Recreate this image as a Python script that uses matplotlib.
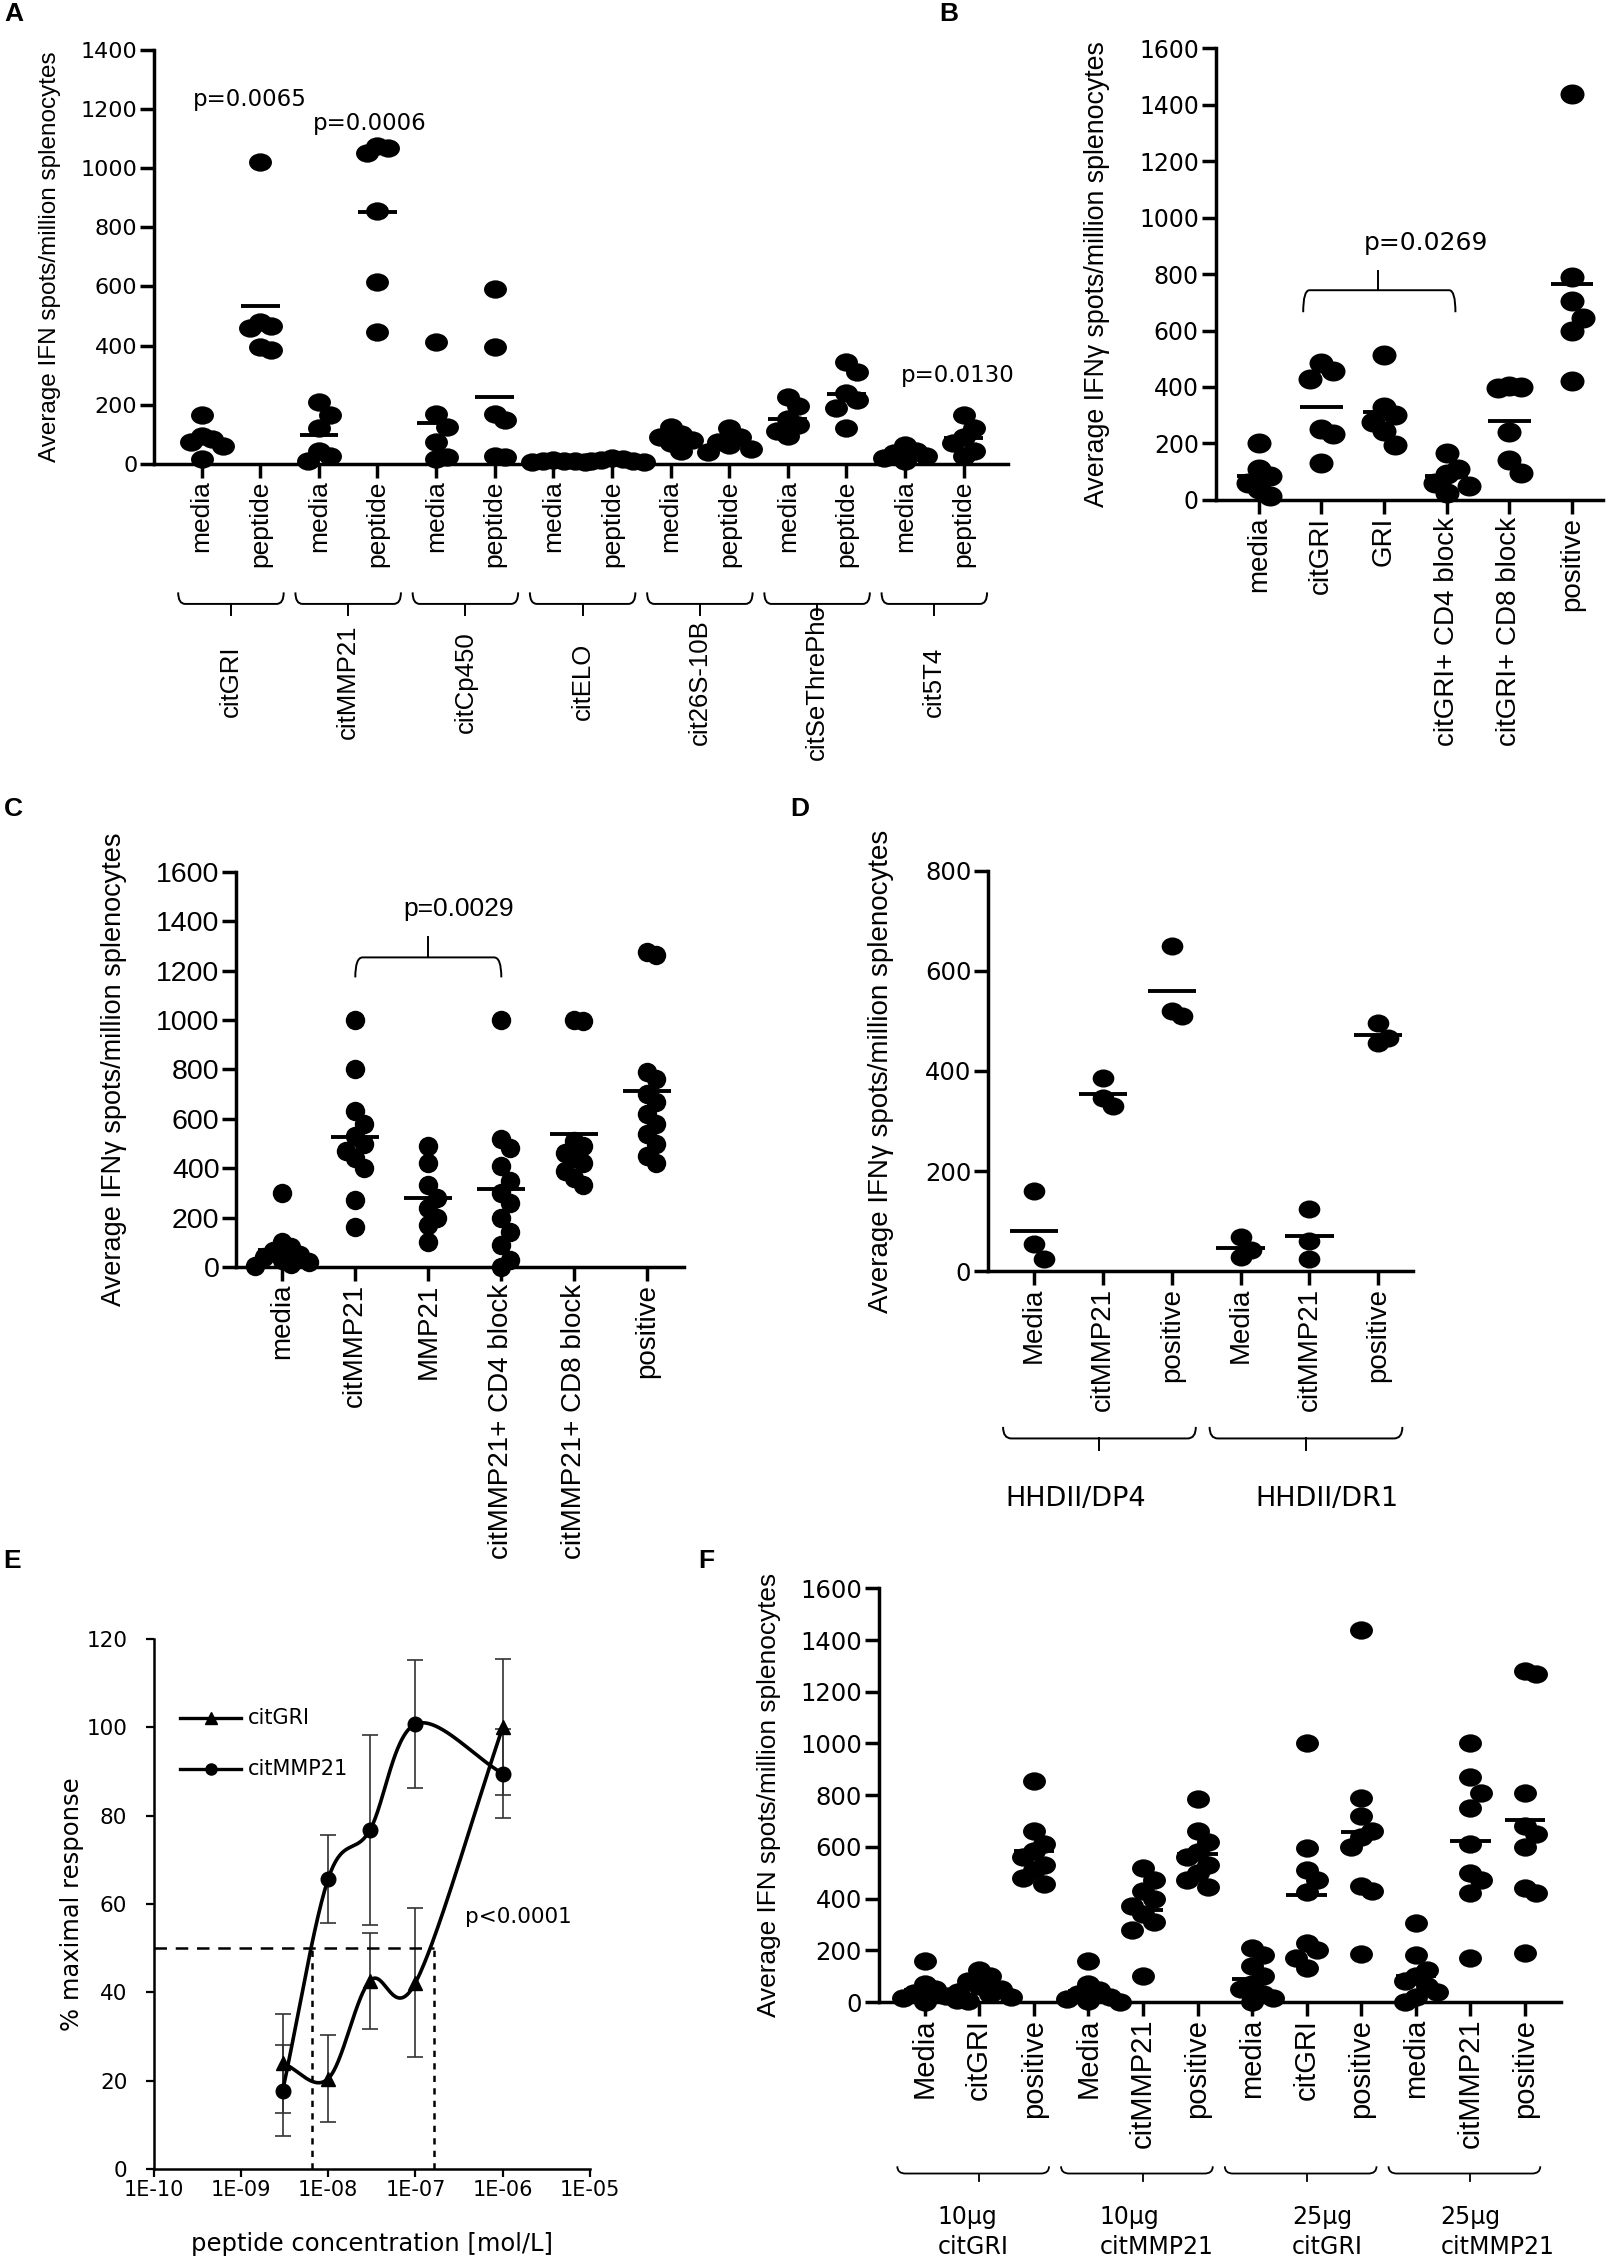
import numpy as np
import matplotlib
matplotlib.use('Agg')
import matplotlib.pyplot as plt
from matplotlib.transforms import blended_transform_factory, Affine2D
from matplotlib.path import Path
from matplotlib.patches import PathPatch

# ======================= DATA =======================
# Panel A
a_groups = ['citGRI', 'citMMP21', 'citCp450', 'citELO', 'cit26S-10B', 'citSeThrePho', 'cit5T4']
a_conditions = ['media', 'peptide']
a_citgri_media = [165, 95, 85, 75, 60, 15]
a_citgri_peptide = [1020, 480, 465, 460, 395, 385]
a_citmmp21_media = [210, 165, 120, 45, 25, 10]
a_citmmp21_peptide = [1075, 1070, 1050, 855, 615, 445]
a_citcp450_media = [412, 170, 125, 75, 22, 15]
a_citcp450_peptide = [592, 395, 170, 147, 28, 23]
a_citelo_media = [12, 10, 8, 8, 5, 5]
a_citelo_peptide = [20, 15, 12, 10, 8, 5]
a_cit26s_media = [125, 100, 90, 80, 70, 45]
a_cit26s_peptide = [122, 90, 75, 65, 50, 40]
a_citsethrepho_media = [225, 195, 150, 130, 110, 95]
a_citsethrepho_peptide = [345, 310, 240, 215, 190, 120]
a_cit5t4_media = [65, 45, 35, 25, 20, 10]
a_cit5t4_peptide = [165, 120, 90, 70, 45, 25]
a_pvalue_text = ['p=0.0065', 'p=0.0006', 'p=0.0130']
a_pvalue_x = [0.83, 2.87, 12.9]
a_pvalue_y = [1231, 1153, 300]

# Panel B
b_labels = ['media', 'citGRI', 'GRI', 'citGRI+ CD4 block', 'citGRI+ CD8 block', 'positive']
b_media = [200, 110, 85, 60, 40, 15]
b_citgri = [485, 455, 430, 250, 235, 130]
b_gri = [515, 330, 300, 275, 245, 195]
b_cd4 = [165, 110, 90, 60, 50, 25]
b_cd8 = [405, 400, 395, 240, 140, 95]
b_positive = [1440, 790, 705, 645, 600, 420]
b_pvalue = 'p=0.0269'

# Panel C
c_labels = ['media', 'citMMP21', 'MMP21', 'citMMP21+ CD4 block', 'citMMP21+ CD8 block', 'positive']
c_media = [300, 100, 80, 65, 50, 40, 30, 20, 10, 5]
c_citmmp21 = [1000, 800, 630, 580, 530, 500, 470, 440, 400, 270, 160]
c_mmp21 = [490, 420, 330, 280, 240, 200, 170, 100]
c_cd4 = [1000, 520, 480, 410, 350, 300, 260, 200, 140, 90, 30, 0]
c_cd8 = [1000, 995, 510, 490, 460, 440, 420, 390, 360, 330]
c_positive = [1275, 1265, 790, 760, 700, 670, 620, 580, 540, 500, 450, 420]
c_pvalue = 'p=0.0029'

# Panel D
d_labels = ['Media', 'citMMP21', 'positive', 'Media', 'citMMP21', 'positive']
d_groups = ['HHDII/DP4', 'HHDII/DR1']
d_dp4_media = [160, 55, 25]
d_dp4_citmmp21 = [385, 345, 330]
d_dp4_positive = [650, 520, 510]
d_dr1_media = [68, 42, 28]
d_dr1_citmmp21 = [125, 60, 25]
d_dr1_positive = [495, 465, 455]

# Panel E
e_conc = [3e-9, 1e-8, 3e-8, 1e-7, 1e-6]
e_citgri = [24, 20.5, 42.6, 42.2, 100]
e_citgri_err = [11.2, 9.9, 10.9, 16.9, 15.4]
e_citmmp21 = [17.7, 65.7, 76.7, 100.7, 89.5]
e_citmmp21_err = [10.3, 9.9, 21.5, 14.4, 10.0]
e_ec50_citmmp21 = 6.5e-9
e_ec50_citgri = 1.65e-7
e_xticklabels = ['1E-10', '1E-09', '1E-08', '1E-07', '1E-06', '1E-05']
e_xticks = [1e-10, 1e-9, 1e-8, 1e-7, 1e-6, 1e-5]

# Panel F
f_labels = ['Media', 'citGRI', 'positive', 'Media', 'citMMP21', 'positive',
            'media', 'citGRI', 'positive', 'media', 'citMMP21', 'positive']
f_groups = ['10\u00b5g\ncitGRI', '10\u00b5g\ncitMMP21', '25\u00b5g\ncitGRI', '25\u00b5g\ncitMMP21']
f_10gri_media = [160, 70, 50, 35, 25, 15, 8, 0]
f_10gri_citgri = [125, 100, 80, 60, 50, 40, 30, 20, 5]
f_10gri_positive = [855, 660, 610, 585, 560, 530, 510, 480, 455]
f_10mmp_media = [160, 70, 45, 30, 20, 10, 5, 0]
f_10mmp_citmmp21 = [520, 470, 430, 400, 370, 340, 310, 280, 100]
f_10mmp_positive = [785, 660, 620, 580, 560, 530, 500, 470, 445]
f_25gri_media = [210, 180, 140, 100, 70, 50, 30, 15, 0]
f_25gri_citgri = [1000, 595, 510, 470, 425, 230, 200, 170, 130]
f_25gri_positive = [1440, 790, 720, 660, 640, 600, 450, 430, 185]
f_25mmp_media = [305, 180, 125, 100, 80, 60, 40, 20, 0]
f_25mmp_citmmp21 = [1000, 870, 810, 750, 610, 500, 470, 420, 170]
f_25mmp_positive = [1280, 1270, 810, 680, 650, 600, 440, 420, 190]

# ======================= LAYOUT =======================
W, H = 1120.0, 1568.0
fig = plt.figure(figsize=(16.13, 22.60), dpi=100)
fig.patch.set_facecolor('white')

SANS = 'Liberation Sans'
WIDE = 'DejaVu Sans'


def add_axes(l, r, t, b):
    return fig.add_axes([l / W, 1 - b / H, (r - l) / W, (b - t) / H])


def ellipse(aspect):
    return Path.unit_circle().transformed(Affine2D().scale(aspect, 1.0))


def swarm(vals, ythr, dx):
    vals = np.asarray(vals, float)
    offs = np.zeros(len(vals))
    placed = []
    for k in np.argsort(-vals, kind='stable'):
        v = vals[k]
        for cand in [0, dx, -dx, 2 * dx, -2 * dx, 3 * dx, -3 * dx]:
            if all(not (abs(v - pv) < ythr and abs(cand - po) < dx * 0.99) for pv, po in placed):
                break
        offs[k] = cand
        placed.append((v, cand))
    return offs


def brace(ax, trans, x0, x1, y_end, y_bar, y_tip, xtip=None, d=0.12, lw=1.4):
    if xtip is None:
        xtip = (x0 + x1) / 2
    verts = [(x0, y_end), (x0, y_bar), (x0 + d, y_bar), (x1 - d, y_bar), (x1, y_bar), (x1, y_end)]
    codes = [Path.MOVETO, Path.CURVE3, Path.CURVE3, Path.LINETO, Path.CURVE3, Path.CURVE3]
    ax.add_patch(PathPatch(Path(verts, codes), fill=False, lw=lw, color='black',
                           transform=trans, clip_on=False))
    ax.plot([xtip, xtip], [y_bar, y_tip], color='black', lw=lw, transform=trans, clip_on=False)


def dot_panel(box, data, labels, ymax, ystep, cat0, spacing, ylabel, ylabel_x, ylabel_size,
              ms=16, aspect=1.2, hw=0.34, lw_axis=2.5, label_size=20, tick_size=17,
              tick_family=WIDE):
    l, r, t, b = box
    ax = add_axes(l, r, t, b)
    n = len(data)
    ax.set_xlim(-(cat0 - l) / spacing, (r - cat0) / spacing)
    ax.set_ylim(0, ymax)
    upp = ymax / (b - t)
    ythr = ms / aspect * 0.85 * upp
    dx = ms * 0.45 / spacing
    mk = ellipse(aspect)
    for i, vals in enumerate(data):
        offs = swarm(vals, ythr, dx)
        ax.scatter(i + offs, vals, s=ms ** 2, marker=mk, color='black', zorder=3,
                   clip_on=False, linewidths=0)
        m = np.mean(vals)
        ax.plot([i - hw, i + hw], [m, m], color='black', lw=2.8, solid_capstyle='butt',
                zorder=4, clip_on=False)
    for s in ['top', 'right']:
        ax.spines[s].set_visible(False)
    for s in ['left', 'bottom']:
        ax.spines[s].set_linewidth(lw_axis)
    ax.set_yticks(np.arange(0, ymax + 1, ystep))
    ax.set_xticks(range(n))
    ax.set_xticklabels(labels, rotation=90, fontsize=label_size, family=SANS)
    ax.tick_params(axis='both', direction='out', length=10, width=lw_axis, pad=2)
    for tl in ax.get_yticklabels():
        tl.set_family(tick_family)
        tl.set_fontsize(tick_size)
    ax.text((ylabel_x - l) / (r - l), 0.5, ylabel, rotation=90, ha='center', va='center',
            transform=ax.transAxes, fontsize=ylabel_size, family=SANS)
    return ax


def yf(box, y):
    l, r, t, b = box
    return (b - y) / (b - t)


def letter(x, y, s):
    fig.text(x / W, 1 - y / H, s, fontsize=19, fontweight='bold', family=SANS, ha='left', va='center')


# ---------------- Panel A ----------------
boxA = (107, 700, 34.7, 321.8)
a_data = [a_citgri_media, a_citgri_peptide, a_citmmp21_media, a_citmmp21_peptide,
          a_citcp450_media, a_citcp450_peptide, a_citelo_media, a_citelo_peptide,
          a_cit26s_media, a_cit26s_peptide, a_citsethrepho_media, a_citsethrepho_peptide,
          a_cit5t4_media, a_cit5t4_peptide]
a_labels = [c for g in a_groups for c in a_conditions]
axA = dot_panel(boxA, a_data, a_labels, 1400, 200, 140, 40.7,
                'Average IFN spots/million splenocytes', 35, 17.5, ms=16.5, aspect=1.25,
                hw=0.33, label_size=19, tick_size=16)
trA = blended_transform_factory(axA.transData, axA.transAxes)
for gi, g in enumerate(a_groups):
    x0, x1 = 2 * gi - 0.4, 2 * gi + 1 + 0.4
    brace(axA, trA, x0, x1, yf(boxA, 411), yf(boxA, 419), yf(boxA, 427))
    axA.text(2 * gi + 0.5, yf(boxA, 473), g, rotation=90, ha='center', va='center',
             transform=trA, fontsize=18.5, family=SANS)
for txt, px, py in zip(a_pvalue_text, a_pvalue_x, a_pvalue_y):
    axA.text(px, py, txt, ha='center', va='center', fontsize=16.5, family=WIDE)
letter(3, 10, 'A')

# ---------------- Panel B ----------------
boxB = (844, 1113, 33.6, 346.8)
axB = dot_panel(boxB, [b_media, b_citgri, b_gri, b_cd4, b_cd8, b_positive], b_labels,
                1600, 200, 874, 43.5, 'Average IFN\u03b3 spots/million splenocytes', 762, 19.3,
                ms=17.3, aspect=1.2, tick_size=17)
brace(axB, axB.transData, 0.71, 3.14, 665, 743, 812, xtip=1.9, d=0.1)
axB.text(2.67, 912, b_pvalue, ha='center', va='center', fontsize=18, family=WIDE)
letter(652, 10, 'B')

# ---------------- Panel C ----------------
boxC = (164, 475, 605, 879)
axC = dot_panel(boxC, [c_media, c_citmmp21, c_mmp21, c_cd4, c_cd8, c_positive], c_labels,
                1600, 200, 196, 50.7, 'Average IFN\u03b3 spots/million splenocytes', 79, 19.5,
                ms=14, aspect=1.0, hw=0.33, tick_size=20.5, tick_family=SANS)
brace(axC, axC.transData, 1.0, 3.0, 1173, 1254, 1335, xtip=2.0, d=0.1)
axC.text(2.42, 1450, c_pvalue, ha='center', va='center', fontsize=19, family=SANS)
letter(3, 561, 'C')

# ---------------- Panel D ----------------
boxD = (686, 981, 604, 882)
axD = dot_panel(boxD, [d_dp4_media, d_dp4_citmmp21, d_dp4_positive,
                       d_dr1_media, d_dr1_citmmp21, d_dr1_positive], d_labels,
                800, 200, 718, 47.8, 'Average IFN\u03b3 spots/million splenocytes', 612, 20,
                ms=15.6, aspect=1.2, hw=0.35, tick_size=17.5)
trD = blended_transform_factory(axD.transData, axD.transAxes)
for gi, (g, gx) in enumerate(zip(d_groups, [0.6, 4.25])):
    x0, x1 = 3 * gi - 0.45, 3 * gi + 2 + 0.35
    brace(axD, trD, x0, x1, yf(boxD, 990), yf(boxD, 998), yf(boxD, 1006), xtip=3 * gi + 0.95,
          d=0.12)
    axD.text(gx, yf(boxD, 1040), g, ha='center', va='center', transform=trD,
             fontsize=19.5, family=WIDE)
letter(549, 561, 'D')

# ---------------- Panel E ----------------
boxE = (106.7, 409.7, 1137, 1505)
axE = add_axes(*boxE)
axE.set_xscale('log')
axE.set_xlim(1e-10, 1e-5)
axE.set_ylim(0, 120)


def smooth(xv, yv, n=60):
    P = np.column_stack([np.log10(xv), yv])
    Pe = np.vstack([2 * P[0] - P[1], P, 2 * P[-1] - P[-2]])
    out = []
    t = np.linspace(0, 1, n)[:, None]
    for i in range(1, len(Pe) - 2):
        p0, p1, p2, p3 = Pe[i - 1], Pe[i], Pe[i + 1], Pe[i + 2]
        seg = 0.5 * (2 * p1 + (-p0 + p2) * t + (2 * p0 - 5 * p1 + 4 * p2 - p3) * t ** 2
                     + (-p0 + 3 * p1 - 3 * p2 + p3) * t ** 3)
        out.append(seg if i == 1 else seg[1:])
    S = np.vstack(out)
    return 10 ** S[:, 0], S[:, 1]


for yv, ev, mk in [(e_citgri, e_citgri_err, '^'), (e_citmmp21, e_citmmp21_err, 'o')]:
    sx, sy = smooth(e_conc, yv)
    axE.plot(sx, sy, color='black', lw=2.6, zorder=3)
    axE.errorbar(e_conc, yv, yerr=ev, fmt='none', ecolor='#333333', elinewidth=1.2,
                 capsize=5.5, capthick=1.2, zorder=2)
    axE.plot(e_conc, yv, ls='none', marker=mk, ms=10.5, color='black', zorder=4)

axE.plot([1e-10, e_ec50_citgri], [50, 50], color='black', lw=1.8, ls=(0, (5, 3.5)))
axE.plot([e_ec50_citmmp21, e_ec50_citmmp21], [0, 50], color='black', lw=1.8, ls=(0, (2.5, 2.5)))
axE.plot([e_ec50_citgri, e_ec50_citgri], [0, 50], color='black', lw=1.8, ls=(0, (2.5, 2.5)))

for yy, mk, name in [(102, '^', 'citGRI'), (90.5, 'o', 'citMMP21')]:
    axE.plot([2.0e-10, 1.0e-9], [yy, yy], color='black', lw=2.4)
    axE.plot([4.5e-10], [yy], marker=mk, ms=8, color='black')
    axE.text(1.2e-9, yy, name, va='center', ha='left', fontsize=15, family=WIDE)
axE.text(3.7e-7, 57, 'p<0.0001', va='center', ha='left', fontsize=15.5, family=WIDE)

for s in ['top', 'right']:
    axE.spines[s].set_visible(False)
for s in ['left', 'bottom']:
    axE.spines[s].set_linewidth(1.8)
axE.set_xticks(e_xticks)
axE.set_xticklabels(e_xticklabels, fontsize=15, family=WIDE)
axE.minorticks_off()
axE.set_yticks(np.arange(0, 121, 20))
axE.set_yticklabels([str(v) for v in range(0, 121, 20)], fontsize=15.5, family=WIDE)
axE.tick_params(axis='x', direction='out', length=6, width=1.6, pad=2)
axE.tick_params(axis='y', direction='out', length=6, width=1.6, pad=13)
axE.text((258 - boxE[0]) / (boxE[1] - boxE[0]), yf(boxE, 1557), 'peptide concentration [mol/L]',
         transform=axE.transAxes, ha='center', va='center', fontsize=17.5, family=WIDE)
axE.text((50 - boxE[0]) / (boxE[1] - boxE[0]), 0.5, '% maximal response', transform=axE.transAxes,
         rotation=90, ha='center', va='center', fontsize=17.5, family=WIDE)
letter(2, 1083, 'E')

# ---------------- Panel F ----------------
boxF = (610, 1084, 1102, 1389)
f_data = [f_10gri_media, f_10gri_citgri, f_10gri_positive, f_10mmp_media, f_10mmp_citmmp21,
          f_10mmp_positive, f_25gri_media, f_25gri_citgri, f_25gri_positive, f_25mmp_media,
          f_25mmp_citmmp21, f_25mmp_positive]
axF = dot_panel(boxF, f_data, f_labels, 1600, 200, 642, 37.9,
                'Average IFN spots/million splenocytes', 534, 18.9, ms=16.5, aspect=1.25,
                hw=0.37, label_size=21, tick_size=17.5)
trF = blended_transform_factory(axF.transData, axF.transAxes)
for gi, (g, gx) in enumerate(zip(f_groups, [0.24, 3.2, 6.73, 9.45])):
    x0, x1 = 3 * gi - 0.5, 3 * gi + 2 + 0.28
    brace(axF, trF, x0, x1, yf(boxF, 1503), yf(boxF, 1508), yf(boxF, 1513), xtip=3 * gi + 1.0,
          d=0.15, lw=1.3)
    axF.text(gx, yf(boxF, 1548.5), g, ha='left', va='center', multialignment='left',
             transform=trF, fontsize=17, family=WIDE, linespacing=1.3)
letter(485, 1083, 'F')

fig.savefig('out.png', dpi=100, facecolor='white')
